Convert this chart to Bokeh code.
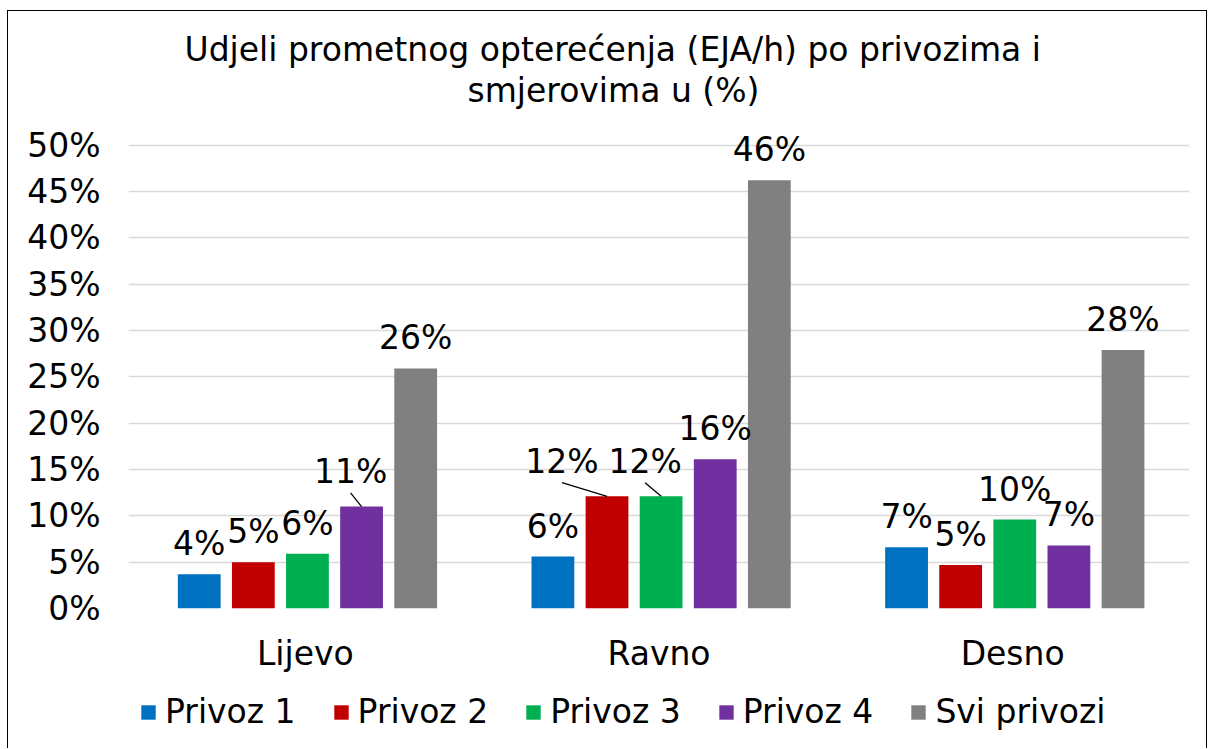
from bokeh.plotting import figure
from bokeh.layouts import column
from bokeh.models import (FactorRange, ColumnDataSource, LabelSet, Legend,
                          LegendItem, FixedTicker, Title, Range1d)
from bokeh.transform import dodge
from bokeh.core.properties import value
from bokeh.embed import file_html
from bokeh.resources import INLINE

# ---------------- data ----------------
categories = ["Lijevo", "Ravno", "Desno"]
series_names = ["Privoz 1", "Privoz 2", "Privoz 3", "Privoz 4", "Svi privozi"]
privoz_1 = [3.7, 5.6, 6.6]
privoz_2 = [5.0, 12.1, 4.7]
privoz_3 = [5.9, 12.1, 9.6]
privoz_4 = [11.0, 16.1, 6.8]
svi_privozi = [25.9, 46.2, 27.9]
y_ticks = [0, 5, 10, 15, 20, 25, 30, 35, 40, 45, 50]
y_tick_labels = ["0%", "5%", "10%", "15%", "20%", "25%", "30%", "35%", "40%", "45%", "50%"]
title_lines = ["Udjeli prometnog opterećenja (EJA/h) po privozima i", "smjerovima u (%)"]

# ---------------- style / layout ----------------
colors = ["#0070C0", "#C00000", "#00B050", "#7030A0", "#808080"]
offsets = [-0.300, -0.147, 0.006, 0.159, 0.312]
BAR_W = 0.121
FONT = "DejaVu Sans"
FS = "33px"
ML, MR, MT, MB = 120, 17, 115, 72
FRAME_W, FRAME_H = 1061, 482
CANVAS_W = ML + FRAME_W + MR
LEGEND_H = 68
Y_MAX = 52  # a little headroom above the last tick so labels are not clipped
PX_PER_CAT = FRAME_W / len(categories)
PX_PER_PCT = FRAME_H / Y_MAX
LABEL_GAP = 19
# displaced data labels (series index, category index) -> (dx px, extra dy px)
displaced = {(3, 0): (-11, 4.6), (1, 1): (-45, 4.6), (2, 1): (-16, 4.6)}
LEADER_START = 13.6

all_series = [privoz_1, privoz_2, privoz_3, privoz_4, svi_privozi]

p = figure(x_range=FactorRange(*categories, range_padding=0),
           y_range=(0, Y_MAX),
           frame_width=FRAME_W, frame_height=FRAME_H,
           output_backend="svg", toolbar_location=None,
           min_border_left=ML, min_border_right=MR, min_border_top=MT,
           min_border_bottom=MB, background_fill_color="white",
           border_fill_color="white", outline_line_color=None)

# axes
p.yaxis.ticker = FixedTicker(ticks=y_ticks)
p.yaxis.major_label_overrides = {t: l for t, l in zip(y_ticks, y_tick_labels)}
p.yaxis.axis_line_color = None
p.yaxis.major_tick_line_color = None
p.yaxis.minor_tick_line_color = None
p.yaxis.major_tick_out = 0
p.yaxis.major_tick_in = 0
p.yaxis.major_label_standoff = 28
p.yaxis.major_label_text_font = FONT
p.yaxis.major_label_text_font_size = FS
p.yaxis.major_label_text_color = "#000000"

p.xaxis.axis_line_color = None
p.xaxis.major_tick_line_color = None
p.xaxis.minor_tick_line_color = None
p.xaxis.major_tick_out = 0
p.xaxis.major_tick_in = 0
p.xaxis.major_label_standoff = 25
p.xaxis.major_label_text_font = FONT
p.xaxis.major_label_text_font_size = FS
p.xaxis.major_label_text_color = "#000000"

p.xgrid.grid_line_color = None
p.ygrid.ticker = FixedTicker(ticks=y_ticks)
p.ygrid.grid_line_color = "#d9d9d9"
p.ygrid.grid_line_width = 1.5

sources = []
for si, (name, vals, col, off) in enumerate(zip(series_names, all_series, colors, offsets)):
    dx = [displaced.get((si, ci), (0, 0))[0] for ci in range(len(categories))]
    dy = [LABEL_GAP + displaced.get((si, ci), (0, 0))[1] for ci in range(len(categories))]
    src = ColumnDataSource(dict(cat=categories, val=vals,
                                lab=[f"{round(v)}%" for v in vals], dx=dx, dy=dy))
    sources.append(src)
    p.vbar(x=dodge("cat", off, range=p.x_range), top="val", width=BAR_W,
           source=src, fill_color=col, line_color=None)
    p.add_layout(LabelSet(x=dodge("cat", off, range=p.x_range), y="val", text="lab",
                          x_offset="dx", y_offset="dy", source=src,
                          text_align="center", text_baseline="alphabetic",
                          text_font=value(FONT), text_font_size=value(FS),
                          text_color="#000000"))
    # leader lines for displaced labels
    for ci, v in enumerate(vals):
        if (si, ci) in displaced:
            ddx = displaced[(si, ci)][0] / PX_PER_CAT
            lsrc = ColumnDataSource(dict(cat=[categories[ci]],
                                         y0=[v + LEADER_START / PX_PER_PCT], y1=[v]))
            p.segment(x0=dodge("cat", off + ddx, range=p.x_range), y0="y0",
                      x1=dodge("cat", off, range=p.x_range), y1="y1",
                      source=lsrc, line_color="#000000", line_width=1.3)

# title: two lines, nearest-to-frame first
p.add_layout(Title(text=title_lines[1], align="left", offset=339, text_font=FONT,
                   text_font_size=FS, text_font_style="normal", text_color="#000000",
                   standoff=34), "above")
p.add_layout(Title(text=title_lines[0], align="left", offset=56, text_font=FONT,
                   text_font_size=FS, text_font_style="normal", text_color="#000000",
                   standoff=-34), "above")

# ---------------- legend strip below the chart ----------------
# same series drawn again in a strip whose y range lies above all values,
# so only the legend swatches are visible there
lg = figure(width=CANVAS_W, height=LEGEND_H,
            x_range=FactorRange(*categories, range_padding=0),
            y_range=Range1d(100, 101),
            x_axis_type=None, y_axis_type=None, output_backend="svg",
            toolbar_location=None, min_border=0, outline_line_color=None,
            background_fill_color="white", border_fill_color="white")
lg.grid.visible = False
legend_items = []
for name, col, off, src in zip(series_names, colors, offsets, sources):
    proxy = lg.vbar(x=dodge("cat", off, range=lg.x_range), top="val", width=BAR_W,
                    source=src, fill_color=col, line_color=None)
    legend_items.append(LegendItem(label=name, renderers=[proxy]))
legend = Legend(items=legend_items, orientation="horizontal", location=(11, 17),
                glyph_width=18, glyph_height=18, label_standoff=8, spacing=36,
                padding=0, margin=0, border_line_color=None, background_fill_alpha=0,
                label_text_font=FONT, label_text_font_size=FS, label_text_color="#000000")
lg.add_layout(legend)

layout = column(p, lg, spacing=0)
layout.styles = {"border-top": "1px solid #000000", "border-left": "1px solid #000000",
                 "border-right": "1px solid #000000", "margin-left": "7px",
                 "margin-top": "10px"}

open("out.html", "w").write(file_html(layout, INLINE))
